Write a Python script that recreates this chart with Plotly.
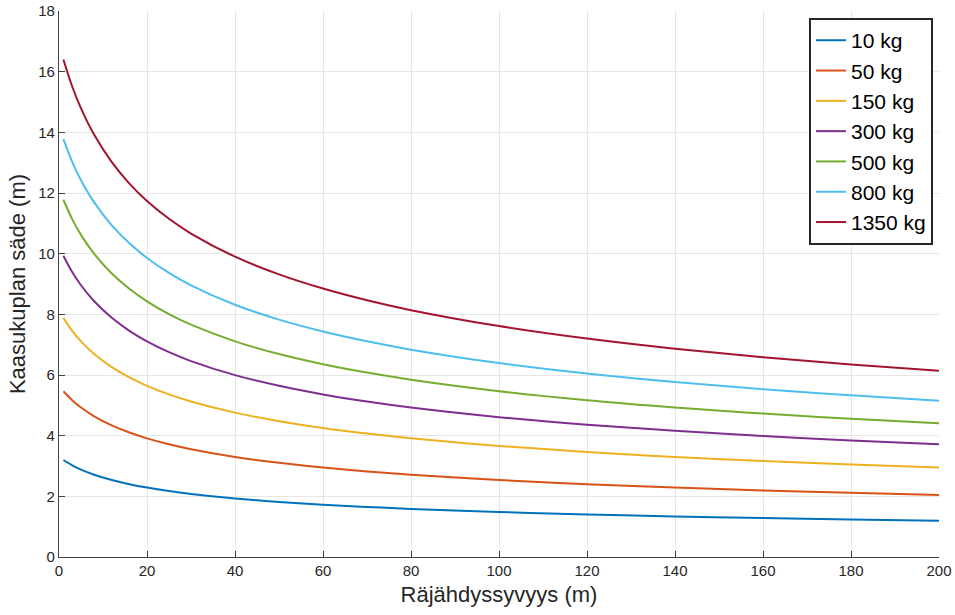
import plotly.graph_objects as go

depth = [1, 3, 5, 8, 12, 16, 20, 25, 30, 40, 50, 60, 70, 80, 100, 120, 140, 160, 180, 200]

r_10 = [3.197, 3.024, 2.883, 2.713, 2.537, 2.400, 2.288, 2.173, 2.079, 1.930, 1.816, 1.725, 1.650, 1.586, 1.484, 1.403, 1.338, 1.283, 1.237, 1.196]
r_50 = [5.466, 5.170, 4.929, 4.639, 4.339, 4.104, 3.912, 3.716, 3.555, 3.300, 3.105, 2.950, 2.821, 2.713, 2.537, 2.400, 2.288, 2.195, 2.115, 2.045]
r_150 = [7.884, 7.457, 7.110, 6.691, 6.258, 5.919, 5.643, 5.360, 5.127, 4.759, 4.479, 4.255, 4.069, 3.913, 3.660, 3.461, 3.300, 3.165, 3.050, 2.950]
r_300 = [9.933, 9.395, 8.958, 8.430, 7.884, 7.457, 7.110, 6.753, 6.459, 5.996, 5.643, 5.360, 5.127, 4.929, 4.611, 4.361, 4.158, 3.988, 3.843, 3.717]
r_500 = [11.777, 11.139, 10.620, 9.994, 9.348, 8.841, 8.429, 8.007, 7.659, 7.110, 6.690, 6.356, 6.079, 5.845, 5.467, 5.170, 4.930, 4.728, 4.556, 4.407]
r_800 = [13.775, 13.029, 12.422, 11.690, 10.933, 10.341, 9.859, 9.365, 8.958, 8.316, 7.825, 7.434, 7.110, 6.836, 6.394, 6.047, 5.766, 5.530, 5.329, 5.154]
r_1350 = [16.399, 15.511, 14.789, 13.917, 13.016, 12.311, 11.738, 11.150, 10.664, 9.900, 9.316, 8.850, 8.464, 8.138, 7.612, 7.200, 6.864, 6.584, 6.344, 6.136]

labels = ["10 kg", "50 kg", "150 kg", "300 kg", "500 kg", "800 kg", "1350 kg"]
series = [r_10, r_50, r_150, r_300, r_500, r_800, r_1350]
colors = ["#0072BD", "#D95319", "#EDB120", "#7E2F8E", "#77AC30", "#4DBEEE", "#A2142F"]

x_ticks = [0, 20, 40, 60, 80, 100, 120, 140, 160, 180, 200]
y_ticks = [0, 2, 4, 6, 8, 10, 12, 14, 16, 18]

fig = go.Figure()
for lab, ys, col in zip(labels, series, colors):
    fig.add_trace(go.Scatter(x=depth, y=ys, mode="lines", name=lab,
                             line=dict(color=col, width=2, shape="spline", smoothing=1.0)))

font_family = "Liberation Sans, Arial, Helvetica, sans-serif"
fig.update_layout(
    width=955, height=615,
    margin=dict(l=59, r=16, t=11, b=58),
    paper_bgcolor="white", plot_bgcolor="white",
    font=dict(family=font_family, color="#262626", size=15),
    showlegend=True,
    legend=dict(x=0.9932, y=0.987, xanchor="right", yanchor="top",
                bgcolor="white", bordercolor="#262626", borderwidth=2,
                font=dict(size=21, color="black"), itemwidth=30,
                tracegroupgap=0),
    xaxis=dict(range=[0, 200], tickvals=x_ticks, ticktext=[str(v) for v in x_ticks],
               showgrid=True, gridcolor="#E6E6E6", gridwidth=1,
               showline=True, linecolor="#404040", linewidth=1.2,
               ticks="inside", ticklen=6, tickcolor="#404040",
               zeroline=False, mirror=False, automargin=False,
               title=dict(text="Räjähdyssyvyys (m)", font=dict(size=22), standoff=8),
               tickfont=dict(size=15)),
    yaxis=dict(range=[0, 18], tickvals=y_ticks, ticktext=[str(v) for v in y_ticks],
               showgrid=True, gridcolor="#E6E6E6", gridwidth=1,
               showline=True, linecolor="#404040", linewidth=1.2,
               ticks="inside", ticklen=6, tickcolor="#404040",
               zeroline=False, mirror=False, automargin=False,
               title=dict(text="Kaasukuplan säde (m)", font=dict(size=22), standoff=6),
               tickfont=dict(size=15)),
)

fig.write_html("out.html",
               config={"displayModeBar": False},
               post_script="document.body.style.margin='0';document.body.style.overflow='hidden';")
